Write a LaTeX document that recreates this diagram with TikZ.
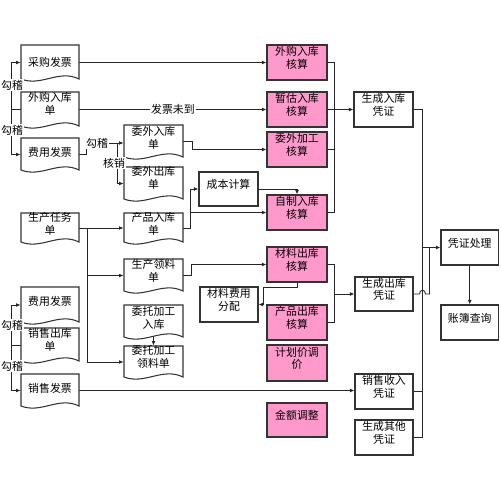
\documentclass[tikz,border=0pt]{standalone}
\usepackage{fontspec}
\setmainfont{Noto Sans CJK SC}
\usetikzlibrary{arrows.meta,fit,calc}
\pgfdeclarelayer{bg}
\pgfsetlayers{bg,main}
\definecolor{pinkfill}{RGB}{255,153,204}
\tikzset{
 every node/.style={font=\fontsize{6.2}{7.3}\selectfont},
 basebox/.style={rectangle, inner sep=0pt, draw=black!80, line width=0.6pt, align=center},
 pinkbox/.style={basebox, fill=pinkfill},
 whitebox/.style={basebox, fill=white},
 docline/.style={draw=black!80, line width=0.6pt, fill=white},
 doctext/.style={align=center, inner sep=0pt},
 lbl/.style={fill=white, inner sep=0.6pt},
 conn/.style={draw=black!85, line width=0.5pt},
 arr/.style={conn, -{Latex[length=2.6pt,width=2.2pt]}},
}
\newcommand{\docnode}[7]{%
  \draw[docline] (#2,#5-1) -- (#2,#3) -- (#4,#3) -- (#4,#5-1) .. controls (#2+0.65*#4-0.65*#2, #5-11) and (#2+0.35*#4-0.35*#2, #5+7) .. (#2,#5-1) -- cycle;
  \node[inner sep=0pt, fit={(#2,#3)(#4,#5)}] (#1) {};
  \node[doctext] (#1-t) at ({(#2+#4)/2}, #6) {#7};
}
\begin{document}
\begin{tikzpicture}[x=0.02cm, y=-0.02cm]
\useasboundingbox (0,0) rectangle (500,500);
% documents left
\docnode{cg}{21}{45}{79}{80}{62}{采购发票}
\docnode{wgrk}{21}{92}{79}{127}{104}{外购入库\\单}
\docnode{fy1}{21}{138}{79}{171}{152}{费用发票}
\docnode{scrw}{21}{213}{79}{243}{224}{生产任务\\单}
\docnode{fy2}{21}{287}{79}{323}{301}{费用发票}
\docnode{xsck}{21}{328}{79}{362}{340}{销售出库\\单}
\docnode{xsfp}{21}{374}{79}{407}{388}{销售发票}
% documents middle
\docnode{wwrk}{124}{125}{183}{158}{138}{委外入库\\单}
\docnode{wwck}{124}{167}{183}{200}{178}{委外出库\\单}
\docnode{cprk}{124}{213}{183}{243}{224}{产品入库\\单}
\docnode{scll}{124}{259}{183}{292}{271}{生产领料\\单}
\docnode{wtrk}{124}{305}{183}{338}{318}{委托加工\\入库}
\docnode{wtll}{124}{346}{183}{378}{357}{委托加工\\领料单}
% pink boxes
\node[pinkbox, fit={(267,45)(327,80)}] (wg) {外购入库\\核算};
\node[pinkbox, fit={(267,92)(327,127)}] (zg) {暂估入库\\核算};
\node[pinkbox, fit={(267,132)(327,167)}] (wwjg) {委外加工\\核算};
\node[pinkbox, fit={(267,195)(327,230)}] (zzrk) {自制入库\\核算};
\node[pinkbox, fit={(267,247)(327,282)}] (clck) {材料出库\\核算};
\node[pinkbox, fit={(267,305)(327,340)}] (cpck) {产品出库\\核算};
\node[pinkbox, fit={(267,345)(327,381)}] (jhj) {计划价调\\价};
\node[pinkbox, fit={(267,403)(327,437)}] (jetz) {金额调整};
% white boxes
\node[whitebox, fit={(199,172)(258,206)}] (cbjs) {成本计算};
\node[whitebox, fit={(200,287)(258,322)}] (clfy) {材料费用\\分配};
\node[whitebox, fit={(354,92)(413,127)}] (scrk) {生成入库\\凭证};
\node[whitebox, fit={(355,277)(413,311)}] (scck) {生成出库\\凭证};
\node[whitebox, fit={(355,374)(413,409)}] (xssr) {销售收入\\凭证};
\node[whitebox, fit={(355,420)(413,455)}] (scqt) {生成其他\\凭证};
\node[whitebox, fit={(441,230)(498.5,265)}] (pzcl) {凭证处理};
\node[whitebox, fit={(441,305)(498.5,340)}] (zbcx) {账簿查询};
% labels
\node[lbl] (g1) at (12,85) {勾稽};
\node[lbl] (g2) at (12,130) {勾稽};
\node[lbl] (g3) at (97,143) {勾稽};
\node[lbl] (hx) at (114,163) {核销};
\node[lbl] (g4) at (12,325) {勾稽};
\node[lbl] (g5) at (12,366) {勾稽};
\begin{pgfonlayer}{bg}
\draw[arr] (wgrk.west) -- ++(-9,0) coordinate (b1) |- (cg.west);
\draw[arr] (b1) |- (fy1.west);
\draw[arr] (cg.east) -- (cg.east -| wg.west);
\draw[arr] (wgrk.east) -- node[lbl] (fpwd) {发票未到} (wgrk.east -| zg.west);
\draw[conn] (fy1.east) -| ($(g3.south west)+(2,0)$);
\draw[conn] (g3.east) -- ++(8,0) coordinate (j3);
\draw[arr] (j3) -- (j3 -| wwrk.west);
\draw[arr] (j3) |- (wwck.west);
\draw[arr] (wwrk.east) -- ++(9,0) |- (wwjg.west);
\draw[arr] (cprk.east) -- ++(7,0) coordinate (j6) |- (cbjs.west);
\draw[arr] (j6 |- zzrk.west) -- (zzrk.west);
\draw[arr] (cbjs.east) -| (zzrk.north);
\draw[conn] (wg.east) -- ++(7,0) coordinate (k1) -- (k1 |- zzrk.east) -- (zzrk.east);
\draw[conn] (wwjg.east) -- (wwjg.east -| k1);
\draw[arr] (zg.east) -- (zg.east -| scrk.west);
\draw[arr] (scrw.east) -- (scrw.east -| cprk.west);
\draw[conn] (scrw.east) -- ++(8,0) coordinate (j9) -- (j9 |- wtll.west);
\draw[arr] (j9 |- scll.west) -- (scll.west);
\draw[arr] (j9 |- wtll.west) -- (wtll.west);
\draw[arr] (scll.east) -- ++(8,0) |- (clck.west);
\draw[arr] (clck.south) -- ++(0,5) -| ($(clfy.east)+(5,0)$) -- (clfy.east);
\draw[conn] (clck.east) -- ++(7,0) coordinate (k2) -- (k2 |- cpck.east) -- (cpck.east);
\draw[arr] (k2 |- scck.west) -- (scck.west);
\draw[arr] ($(wtrk.south)+(0,-2)$) -- (wtll.north);
\draw[arr] (xsck.west) -- ++(-9,0) coordinate (b2) |- (fy2.west);
\draw[arr] (b2) |- (xsfp.west);
\draw[arr] (xsfp.east) -- (xsfp.east -| xssr.west);
\draw[conn] (scrk.east) -- ++(9,0) coordinate (k3) -- (k3 |- scqt.east) -- (scqt.east);
\draw[conn] (xssr.east) -- (xssr.east -| k3);
\draw[arr] (k3 |- pzcl.west) -- (pzcl.west);
\draw[conn] (scck.east) -- ($(scck.east)+(6,0)$) .. controls ($(scck.east)+(6,-5)$) and ($(scck.east)+(12,-5)$) .. ($(scck.east)+(12,0)$) -- ($(scck.east)+(16,0)$) coordinate (k4) -- (k4 |- pzcl.west);
\draw[arr] (pzcl.south) -- (zbcx.north);
\end{pgfonlayer}
\end{tikzpicture}
\end{document}
